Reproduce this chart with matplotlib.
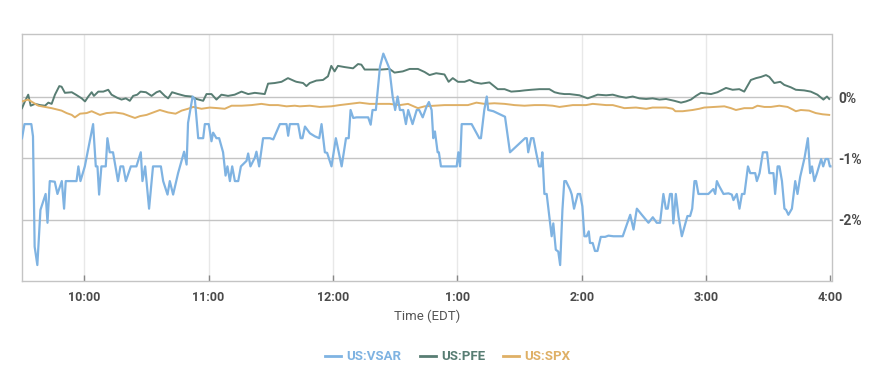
import matplotlib
matplotlib.use("Agg")
import matplotlib.pyplot as plt
from matplotlib.lines import Line2D

plt.rcParams["font.family"] = ["Roboto", "DejaVu Sans"]

# minutes after the 9:30 open, percent change
vsar_t = [0, 1.2, 4.5, 5.3, 6.1, 7.4, 8.9, 11.4, 12.3, 13.4, 15.8, 17.1, 19.2, 20.3, 21.1,
          26.3, 27.2, 28.2, 30.3, 34.3, 35.6, 36.4, 37.2, 38.3, 40.4, 41.2, 42.3, 43.9,
          46.3, 47.5, 48.8, 50.1, 52.5, 55.2, 57.3, 58.1, 59.4, 61.3, 63.2, 67.0, 68.1,
          70.2, 71.3, 72.9, 75.3, 78.2, 79.4, 80.1, 82.3, 83.4, 85.0, 87.4, 88.2, 90.1,
          91.4, 92.2, 93.8, 95.1, 97.0, 98.2, 99.1, 100.3, 101.4, 102.7, 104.3, 105.6,
          108.3, 109.1, 110.2, 112.3, 113.1, 114.4, 116.3, 119.6, 121.2, 124.4, 127.6,
          128.4, 129.2, 133.2, 134.4, 135.3, 136.5, 138.9, 141.3, 143.4, 144.5, 146.1,
          147.2, 149.3, 151.4, 154.2, 156.3, 157.6, 158.5, 159.8, 161.4, 167.0, 168.2,
          169.1, 170.7, 172.7, 174.3, 177.2, 178.8, 180.0, 181.2, 182.3, 183.9, 185.2,
          186.3, 188.4, 190.4, 191.6, 193.3, 195.2, 196.3, 197.6, 198.4, 199.2, 200.5,
          201.1, 202.1, 209.7, 210.5, 211.3, 212.1, 216.9, 220.6, 221.4, 223.0, 224.2,
          224.9, 227.4, 233.0, 235.4, 242.7, 243.5, 244.2, 245.6, 246.7, 248.0, 249.4,
          250.4, 251.0, 252.0, 253.1, 255.5, 256.3, 257.5, 258.7, 259.6, 260.7, 261.6,
          262.4, 264.4, 265.2, 266.3, 268.1, 269.2, 270.3, 271.3, 272.4, 273.4, 274.0,
          275.3, 276.4, 277.6, 279.2, 281.3, 282.9, 285.3, 289.8, 293.4, 295.0, 296.6,
          299.0, 302.2, 304.3, 306.2, 307.8, 309.4, 310.6, 311.5, 312.6, 313.5, 314.2,
          315.4, 316.7, 318.3, 321.0, 322.3, 323.3, 324.4, 325.2, 326.3, 331.1, 333.5,
          334.4, 335.2, 336.3, 338.4, 340.8, 342.4, 343.2, 344.8, 346.1, 347.3, 348.5,
          350.2, 351.3, 353.7, 354.5, 355.8, 357.4, 359.4, 360.5, 362.5, 363.3, 364.5,
          365.4, 366.6, 367.8, 368.6, 369.7, 371.4, 373.0, 374.1, 375.4, 377.5, 379.1,
          380.2, 381.1, 382.2, 383.5, 385.5, 386.5, 387.6, 388.9, 389.7, 390.0]
vsar = [-0.67, -0.44, -0.44, -0.64, -2.44, -2.74, -1.84, -1.58, -2.05, -1.37, -1.38, -1.58,
        -1.37, -1.82, -1.37, -1.37, -1.13, -1.37, -1.13, -0.44, -1.13, -1.13, -1.59, -1.13,
        -1.13, -0.67, -0.90, -0.90, -1.37, -1.13, -1.13, -1.37, -1.13, -1.13, -0.90, -1.37,
        -1.13, -1.82, -1.13, -1.13, -1.37, -1.59, -1.37, -1.59, -1.24, -0.89, -1.10, -0.42,
        0.01, -0.04, -0.67, -0.67, -0.44, -0.44, -0.72, -0.58, -0.67, -0.67, -0.90, -1.28,
        -1.13, -1.37, -1.13, -1.37, -1.37, -1.13, -1.04, -0.92, -1.13, -0.99, -0.89, -1.13,
        -0.67, -0.67, -0.69, -0.44, -0.44, -0.63, -0.44, -0.44, -0.67, -0.67, -0.48, -0.59,
        -0.64, -0.67, -0.44, -0.90, -0.91, -1.13, -0.67, -1.13, -0.67, -0.67, -0.21, -0.34,
        -0.33, -0.33, -0.45, -0.21, -0.21, 0.50, 0.71, 0.47, 0.01, -0.21, 0.01, -0.21,
        -0.21, -0.44, -0.21, -0.44, -0.21, -0.21, -0.33, -0.15, -0.08, -0.21, -0.67, -0.56,
        -0.90, -0.90, -1.13, -1.13, -0.90, -1.13, -0.44, -0.44, -0.67, -0.67, -0.21, 0.01,
        -0.21, -0.23, -0.32, -0.90, -0.67, -0.67, -0.90, -0.67, -0.67, -0.90, -1.13, -1.13,
        -0.90, -1.58, -1.58, -2.27, -2.06, -2.49, -2.52, -2.74, -1.84, -1.37, -1.37, -1.51,
        -1.59, -1.82, -1.58, -1.58, -1.78, -2.27, -2.27, -2.19, -2.38, -2.38, -2.51, -2.51,
        -2.28, -2.28, -2.26, -2.27, -2.27, -1.92, -2.16, -1.82, -1.92, -2.05, -1.96, -2.05,
        -2.05, -1.58, -1.82, -1.82, -1.58, -1.58, -2.06, -1.58, -1.95, -2.27, -1.94, -1.94,
        -1.82, -1.37, -1.37, -1.58, -1.58, -1.50, -1.58, -1.37, -1.45, -1.58, -1.57, -1.59,
        -1.68, -1.58, -1.82, -1.58, -1.58, -1.13, -1.24, -1.24, -1.37, -1.24, -0.90, -0.90,
        -1.24, -1.24, -1.58, -1.13, -1.13, -1.37, -1.82, -1.84, -1.92, -1.82, -1.37, -1.58,
        -1.30, -0.99, -0.67, -1.24, -1.13, -1.37, -1.24, -1.01, -1.13, -1.01, -1.01, -1.13,
        -1.13]

pfe_t = [0, 1.4, 3.0, 4.2, 6.3, 8.7, 11.1, 12.7, 14.3, 15.9, 18.0, 19.1, 20.7, 24.0, 26.0,
         28.8, 30.4, 32.0, 33.6, 34.7, 36.8, 39.2, 41.6, 43.2, 45.9, 48.0, 50.1, 52.0, 53.6,
         55.6, 57.2, 59.8, 62.5, 64.9, 66.5, 68.9, 70.5, 72.4, 75.3, 78.6, 81.8, 84.2, 87.4,
         89.0, 91.4, 93.8, 96.2, 99.4, 102.6, 105.9, 109.1, 112.3, 117.1, 118.7, 121.9,
         125.2, 128.3, 131.6, 132.4, 135.6, 137.2, 138.8, 142.0, 145.2, 147.6, 149.2, 150.8,
         152.4, 155.7, 159.7, 162.1, 163.7, 165.3, 169.3, 173.3, 177.3, 179.7, 183.7, 187.0,
         191.0, 194.2, 196.6, 199.8, 203.8, 205.8, 207.8, 210.3, 213.5, 215.9, 218.3, 221.5,
         225.5, 229.5, 232.8, 236.0, 240.0, 242.4, 245.6, 249.6, 254.4, 256.9, 259.3, 261.7,
         264.1, 268.9, 272.9, 277.7, 281.8, 285.0, 288.2, 291.4, 294.6, 297.8, 301.1, 304.2,
         307.5, 310.7, 314.7, 317.9, 320.3, 322.7, 325.1, 327.5, 332.4, 335.5, 339.6, 342.8,
         346.0, 348.4, 351.6, 354.1, 356.5, 358.9, 360.5, 362.9, 365.8, 367.7, 370.9, 373.3,
         377.3, 380.5, 383.7, 386.6, 388.3, 389.4]
pfe = [-0.18, -0.07, 0.04, -0.14, -0.11, -0.13, -0.14, -0.09, -0.11, 0.04, 0.18, 0.17,
       0.07, 0.08, 0.04, -0.02, -0.07, 0.01, 0.08, 0.02, 0.09, 0.09, 0.12, 0.04, -0.01,
       -0.04, -0.02, -0.06, 0.02, 0.04, 0.09, 0.08, 0.02, 0.08, 0.10, 0.02, -0.02, 0.08,
       0.05, 0.02, 0.01, -0.03, -0.06, 0.05, 0.05, -0.04, 0.04, 0.02, 0.04, 0.09, 0.05,
       0.07, 0.05, 0.22, 0.23, 0.25, 0.31, 0.26, 0.25, 0.23, 0.18, 0.23, 0.27, 0.28, 0.34,
       0.51, 0.42, 0.51, 0.49, 0.47, 0.54, 0.53, 0.45, 0.45, 0.45, 0.46, 0.40, 0.42, 0.46,
       0.46, 0.41, 0.36, 0.39, 0.37, 0.25, 0.31, 0.25, 0.25, 0.28, 0.24, 0.22, 0.24, 0.13,
       0.13, 0.09, 0.10, 0.11, 0.12, 0.13, 0.13, 0.08, 0.06, 0.05, 0.05, 0.03, -0.02, 0.04,
       0.03, 0.04, 0.01, -0.01, 0.01, -0.02, -0.03, -0.02, -0.04, -0.03, -0.06, -0.09,
       -0.07, -0.04, 0.02, 0.07, 0.05, 0.08, 0.15, 0.12, 0.13, 0.09, 0.28, 0.31, 0.33,
       0.36, 0.33, 0.23, 0.25, 0.20, 0.16, 0.12, 0.11, 0.09, 0.04, -0.04, 0.01, -0.03]

spx_t = [0, 3.0, 5.4, 7.9, 11.1, 14.3, 16.7, 19.1, 21.5, 24.0, 25.5, 28.0, 31.2, 33.6, 37.6,
         40.8, 44.8, 48.8, 52.0, 54.5, 56.9, 60.1, 63.3, 66.5, 70.5, 74.1, 77.0, 80.1, 82.6,
         86.6, 90.6, 94.6, 97.8, 101.1, 105.9, 110.7, 115.5, 119.5, 123.5, 127.6, 131.6,
         134.0, 138.8, 143.6, 149.2, 153.2, 158.1, 162.9, 167.7, 172.5, 177.3, 182.2, 186.2,
         191.0, 194.2, 199.0, 203.8, 210.3, 215.1, 219.2, 223.1, 227.9, 232.8, 237.6, 242.4,
         247.2, 252.0, 256.0, 259.3, 265.7, 272.1, 275.3, 281.8, 285.0, 290.6, 296.2, 301.1,
         304.2, 310.7, 313.9, 315.2, 318.7, 323.5, 326.7, 329.1, 334.0, 338.8, 342.0, 344.4,
         348.4, 352.4, 354.8, 358.1, 361.3, 365.3, 369.3, 371.7, 373.3, 375.7, 379.7, 382.9,
         386.2, 389.4]
spx = [-0.07, -0.04, -0.09, -0.14, -0.16, -0.18, -0.20, -0.22, -0.26, -0.29, -0.33, -0.27,
       -0.26, -0.23, -0.29, -0.26, -0.25, -0.27, -0.31, -0.34, -0.31, -0.29, -0.25, -0.21,
       -0.25, -0.27, -0.22, -0.19, -0.16, -0.19, -0.17, -0.18, -0.19, -0.14, -0.14, -0.13,
       -0.11, -0.13, -0.13, -0.15, -0.14, -0.15, -0.14, -0.16, -0.15, -0.13, -0.11, -0.09,
       -0.11, -0.11, -0.11, -0.13, -0.11, -0.18, -0.15, -0.14, -0.13, -0.13, -0.13, -0.09,
       -0.11, -0.10, -0.11, -0.13, -0.14, -0.13, -0.13, -0.14, -0.16, -0.13, -0.13, -0.11,
       -0.13, -0.13, -0.18, -0.17, -0.19, -0.17, -0.17, -0.19, -0.23, -0.23, -0.21, -0.19,
       -0.17, -0.16, -0.15, -0.18, -0.21, -0.18, -0.18, -0.14, -0.16, -0.16, -0.14, -0.16,
       -0.20, -0.23, -0.21, -0.22, -0.26, -0.28, -0.29]

hour_ticks = [30, 90, 150, 210, 270, 330, 390]
hour_labels = ["10:00", "11:00", "12:00", "1:00", "2:00", "3:00", "4:00"]
pct_ticks = [0, -1, -2]
pct_labels = ["0%", "-1%", "-2%"]

c_vsar = "#7fb3e2"
c_pfe = "#587d73"
c_spx = "#dfb066"
grid_c = "#c4c4c4"

fig = plt.figure(figsize=(8.85, 3.81), dpi=100)
ax = fig.add_axes([22 / 885, 1 - 281 / 381, 809.5 / 885, 247 / 381])

ax.plot(pfe_t, pfe, color=c_pfe, lw=1.4, zorder=3)
ax.plot(spx_t, spx, color=c_spx, lw=1.4, zorder=3)
ax.plot(vsar_t, vsar, color=c_vsar, lw=1.6, zorder=4)

ax.set_xlim(0, 390.5)
ax.set_ylim(-3, 1.03)

for v in pct_ticks:
    ax.axhline(v, color=grid_c, lw=1, zorder=1)
for t in hour_ticks[:-1]:
    ax.axvline(t, color="#e8e8e8", lw=1, zorder=0)

for s in ax.spines.values():
    s.set_color(grid_c)
    s.set_linewidth(1)

ax.set_xticks(hour_ticks)
ax.set_xticklabels(hour_labels, fontsize=9, fontweight="bold", color="#4a4a4a")
ax.tick_params(axis="x", direction="in", length=4, width=1, color="#888888", pad=7)

ax.yaxis.tick_right()
ax.set_yticks(pct_ticks)
ax.set_yticklabels(pct_labels, fontsize=10, fontweight="bold", color="#4a4a4a")
ax.tick_params(axis="y", length=0, pad=5)

ax.set_xlabel("Time (EDT)", fontsize=9.5, color="#555555", labelpad=4)

handles = [Line2D([], [], color=c, lw=2) for c in (c_vsar, c_pfe, c_spx)]
leg = fig.legend(handles, ["US:VSAR", "US:PFE", "US:SPX"], loc="center",
                 bbox_to_anchor=(0.506, 1 - 357 / 381), ncol=3, frameon=False,
                 handlelength=1.2, handletextpad=0.4, columnspacing=1.4,
                 prop={"family": ["Roboto", "DejaVu Sans"], "size": 9.5, "weight": "bold"})
for txt, c in zip(leg.get_texts(), (c_vsar, c_pfe, c_spx)):
    txt.set_color(c)

fig.savefig("out.png", dpi=100)
